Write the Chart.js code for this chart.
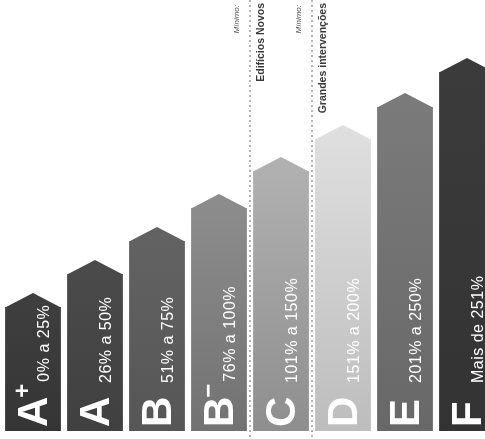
<!DOCTYPE html>
<html lang="pt">
<head>
<meta charset="utf-8">
<title>Classes energéticas</title>
<script src="https://cdn.jsdelivr.net/npm/chart.js@4/dist/chart.umd.min.js"></script>
<style>
    html, body { margin: 0; padding: 0; background: #fff; overflow: hidden; }
    #wrap { width: 500px; height: 439px; }
</style>
</head>
<body>
<div id="wrap"><canvas id="classesChart" width="500" height="439"></canvas></div>
<script>
// Classes e intervalos
const classes = ['A+', 'A', 'B', 'B−', 'C', 'D', 'E', 'F'];
const intervalos = ['0% a 25%', '26% a 50%', '51% a 75%', '76% a 100%', '101% a 150%', '151% a 200%', '201% a 250%', 'Mais de 251%'];
const alturas = [124, 157, 190, 223, 260, 292, 324, 359];

// Tons de cinza de cada barra (topo / base)
const corTopo = ['#3e3e3e', '#4a4a4a', '#626262', '#8c8c8c', '#b0b0b0', '#dedede', '#7a7a7a', '#3b3b3b'];
const corBase = ['#353535', '#404040', '#565656', '#727272', '#8e8e8e', '#bdbdbd', '#686868', '#333333'];

// Linhas de mínimo (depois de qual classe)
const minimoDepoisDe = ['B−', 'C'];
const minimoTexto = ['Edifícios Novos', 'Grandes intervenções'];

const FONTE = '"Liberation Sans", Arial, sans-serif';
const ALTURA_TELHADO = 14;

function textoRodado(ctx, texto, x, y, fonte, cor) {
    ctx.save();
    ctx.translate(x, y);
    ctx.rotate(-Math.PI / 2);
    ctx.font = fonte;
    ctx.fillStyle = cor;
    ctx.textAlign = 'left';
    ctx.textBaseline = 'alphabetic';
    ctx.fillText(texto, 0, 0);
    const w = ctx.measureText(texto).width;
    ctx.restore();
    return w;
}

const casinhas = {
    id: 'casinhas',
    beforeDatasetsDraw(chart) {
        // linhas pontilhadas dos mínimos
        const ctx = chart.ctx;
        const xs = chart.scales.x;
        minimoDepoisDe.forEach((cls, k) => {
            const i = classes.indexOf(cls);
            const x = (xs.getPixelForValue(i) + xs.getPixelForValue(i + 1)) / 2;
            ctx.save();
            ctx.strokeStyle = '#b4b4b4';
            ctx.lineWidth = 2;
            ctx.setLineDash([2, 3]);
            ctx.beginPath();
            ctx.moveTo(x, 0);
            ctx.lineTo(x, chart.height);
            ctx.stroke();
            ctx.restore();

            ctx.save();
            ctx.font = '8px ' + FONTE;
            const wm = ctx.measureText('Mínimo:').width;
            ctx.font = 'bold 10.5px ' + FONTE;
            const wt = ctx.measureText(minimoTexto[k]).width;
            ctx.restore();
            textoRodado(ctx, 'Mínimo:', x - 11, 5 + wm, 'italic 8px ' + FONTE, '#555');
            textoRodado(ctx, minimoTexto[k], x + 14, 3 + wt, 'bold 10.5px ' + FONTE, '#3a3a3a');
        });
    },
    afterDatasetsDraw(chart) {
        const ctx = chart.ctx;
        const meta = chart.getDatasetMeta(0);
        meta.data.forEach((bar, i) => {
            const p = bar.getProps(['x', 'y', 'width', 'base'], true);
            // telhado
            ctx.save();
            ctx.fillStyle = corTopo[i];
            ctx.beginPath();
            ctx.moveTo(p.x - p.width / 2, p.y + 0.5);
            ctx.lineTo(p.x, p.y - ALTURA_TELHADO);
            ctx.lineTo(p.x + p.width / 2, p.y + 0.5);
            ctx.closePath();
            ctx.fill();
            ctx.restore();

            // letra, expoente e intervalo
            const letra = classes[i].charAt(0);
            const expoente = classes[i].slice(1);
            const y0 = p.base - 4;
            const wl = textoRodado(ctx, letra, p.x + 14, y0, 'bold 42px ' + FONTE, '#fff');
            let fim = y0 - wl;
            if (expoente) {
                const we = textoRodado(ctx, expoente, p.x - 3, fim + 1, 'bold 24px ' + FONTE, '#fff');
                fim = fim + 1 - we;
            }
            const inicio = Math.min(383, fim - 2);
            ctx.save();
            ctx.letterSpacing = '0.5px';
            textoRodado(ctx, intervalos[i], p.x + 16, inicio, '16px ' + FONTE, '#fff');
            ctx.restore();
        });
    }
};

const ctx = document.getElementById('classesChart').getContext('2d');

const data = {
    labels: classes,
    datasets: [{
        label: 'Classe energética',
        data: alturas,
        backgroundColor: function (context) {
            const chart = context.chart;
            const i = context.dataIndex;
            if (!chart.chartArea || i === undefined) return corBase[i] || '#777';
            const topo = chart.scales.y.getPixelForValue(alturas[i]);
            const g = chart.ctx.createLinearGradient(0, topo, 0, chart.chartArea.bottom);
            g.addColorStop(0, corTopo[i]);
            g.addColorStop(1, corBase[i]);
            return g;
        },
        borderWidth: 0,
        barPercentage: 0.9,
        categoryPercentage: 1
    }]
};

const config = {
    type: 'bar',
    data: data,
    options: {
        responsive: false,
        animation: false,
        layout: { padding: { left: 2, right: 2, top: 0, bottom: 8 } },
        plugins: {
            legend: { display: false },
            tooltip: { enabled: false }
        },
        scales: {
            x: { display: false },
            y: { display: false, min: 0, max: 431 }
        }
    },
    plugins: [casinhas]
};

const classesChart = new Chart(ctx, config);
</script>
</body>
</html>
